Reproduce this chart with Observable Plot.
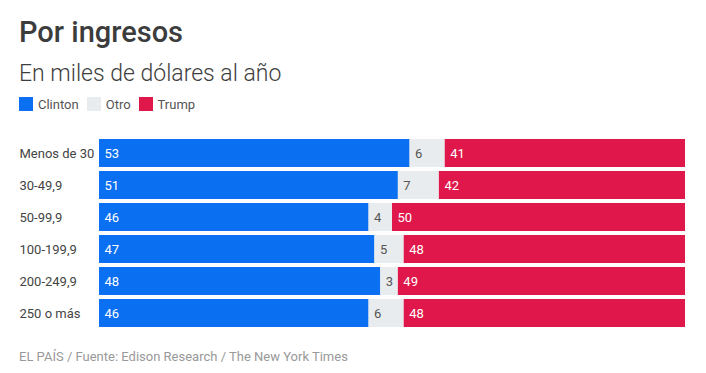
<!DOCTYPE html>
<html>
<head>
<meta charset="utf-8">
<script src="https://cdn.jsdelivr.net/npm/d3@7"></script>
<script src="https://cdn.jsdelivr.net/npm/@observablehq/plot@0.6"></script>
<style>
  html, body { margin: 0; padding: 0; background: #fff; width: 706px; height: 373px; overflow: hidden; font-family: Roboto, "Noto Sans", sans-serif; }
  .t { position: absolute; left: 19px; white-space: nowrap; }
  #title { top: 18px; font-size: 29px; line-height: 29px; font-weight: 500; color: #3c3c3c; }
  #subtitle { top: 62px; font-size: 23px; line-height: 23px; font-weight: 300; color: #3e3e3e; }
  #legend { top: 97px; height: 14px; display: flex; align-items: center; font-size: 13px; color: #555; }
  #legend .sw { width: 14px; height: 14px; margin-right: 5px; }
  #legend .it { display: flex; align-items: center; margin-right: 8px; }
  #caption { top: 349px; font-size: 13px; line-height: 15px; color: #999; }
  #chart { position: absolute; left: 0; top: 128px; }
</style>
</head>
<body>
<div id="title" class="t">Por ingresos</div>
<div id="subtitle" class="t">En miles de dólares al año</div>
<div id="legend" class="t"></div>
<div id="chart"></div>
<div id="caption" class="t">EL PAÍS / Fuente: Edison Research / The New York Times</div>
<script>
const categories = ["Menos de 30", "30-49,9", "50-99,9", "100-199,9", "200-249,9", "250 o más"];
const parties = ["Clinton", "Otro", "Trump"];
const clinton = [53, 51, 46, 47, 48, 46];
const otro = [6, 7, 4, 5, 3, 6];
const trump = [41, 42, 50, 48, 49, 48];
const colors = ["#0a6ff0", "#e9ecee", "#e0174a"];
const labelColors = ["#ffffff", "#555555", "#ffffff"];

const series = [clinton, otro, trump];
const data = [];
categories.forEach((c, i) => {
  parties.forEach((p, j) => data.push({income: c, party: p, value: series[j][i]}));
});

// legend
const legend = document.getElementById("legend");
parties.forEach((p, j) => {
  const it = document.createElement("div");
  it.className = "it";
  it.innerHTML = `<div class="sw" style="background:${colors[j]}"></div><span>${p}</span>`;
  legend.appendChild(it);
});

const chart = Plot.plot({
  width: 706,
  height: 208,
  marginTop: 10,
  marginBottom: 9,
  marginLeft: 99,
  marginRight: 21,
  style: {fontFamily: "Roboto, 'Noto Sans', sans-serif", fontSize: "13px", background: "#fff"},
  x: {domain: [0, 100], axis: null},
  y: {domain: categories, paddingInner: 0.14, paddingOuter: 0, label: null},
  color: {domain: parties, range: colors},
  marks: [
    Plot.barX(data, Plot.stackX({x: "value", y: "income", fill: "party", z: "party", order: parties})),
    Plot.textX(data, Plot.stackX1({
      x: "value", y: "income", z: "party", order: parties,
      text: d => String(d.value),
      fill: d => labelColors[parties.indexOf(d.party)],
      textAnchor: "start", dx: 5, fontSize: 13
    })),
    Plot.axisY({tickSize: 0, tickPadding: 0, textAnchor: "start", dx: -80, fill: "#444", fontSize: 13, label: null})
  ]
});
document.getElementById("chart").appendChild(chart);
</script>
</body>
</html>
